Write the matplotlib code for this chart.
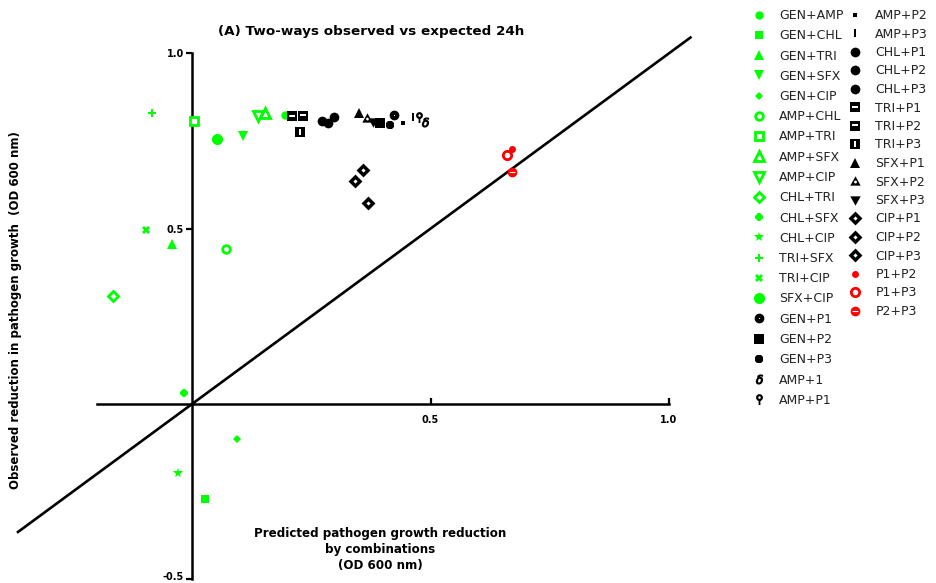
import numpy as np
import matplotlib
matplotlib.use("Agg")
import matplotlib.pyplot as plt
from matplotlib.path import Path
from matplotlib.lines import Line2D
from matplotlib.transforms import ScaledTranslation

# ---------------- data ----------------
green_labels = ["GEN+AMP", "GEN+CHL", "GEN+TRI", "GEN+SFX", "GEN+CIP",
                "AMP+CHL", "AMP+TRI", "AMP+SFX", "AMP+CIP", "CHL+TRI",
                "CHL+SFX", "CHL+CIP", "TRI+SFX", "TRI+CIP", "SFX+CIP"]
green_x = [0.195, 0.027, -0.042, 0.107, 0.094, 0.071, 0.004, 0.153, 0.138,
           -0.166, -0.017, -0.029, -0.084, -0.096, 0.052]
green_y = [0.824, -0.271, 0.456, 0.764, -0.100, 0.442, 0.807, 0.830, 0.821,
           0.308, 0.031, -0.197, 0.830, 0.496, 0.756]

black_labels = ["GEN+P1", "GEN+P2", "GEN+P3", "AMP+1", "AMP+P1", "AMP+P2",
                "AMP+P3", "CHL+P1", "CHL+P2", "CHL+P3", "TRI+P1", "TRI+P2",
                "TRI+P3", "SFX+P1", "SFX+P2", "SFX+P3", "CIP+P1", "CIP+P2",
                "CIP+P3"]
black_x = [0.423, 0.394, 0.415, 0.488, 0.476, 0.442, 0.463, 0.273, 0.285,
           0.298, 0.210, 0.233, 0.226, 0.350, 0.367, 0.379, 0.358, 0.342,
           0.369]
black_y = [0.823, 0.800, 0.795, 0.803, 0.818, 0.800, 0.818, 0.807, 0.801,
           0.818, 0.821, 0.821, 0.776, 0.830, 0.815, 0.803, 0.667, 0.636,
           0.573]

red_labels = ["P1+P2", "P1+P3", "P2+P3"]
red_x = [0.671, 0.660, 0.671]
red_y = [0.727, 0.710, 0.661]

identity_range = [-0.365, 1.045]

y_ticks = [-0.5, 0.5, 1.0]
y_ticklabels = ["-0.5", "0.5", "1.0"]
x_ticks = [0.5, 1.0]
x_ticklabels = ["0.5", "1.0"]

title = "(A) Two-ways observed vs expected 24h"
xlabel = "Predicted pathogen growth reduction\nby combinations\n(OD 600 nm)"
ylabel = "Observed reduction in pathogen growth  (OD 600 nm)"

# ---------------- custom marker paths ----------------
def poly(cx, cy, r, n=32, ccw=True):
    t = np.linspace(0, 2 * np.pi, n, endpoint=False)
    if not ccw:
        t = t[::-1]
    v = np.column_stack([cx + r * np.cos(t), cy + r * np.sin(t)])
    v = np.vstack([v, v[:1]])
    codes = [Path.MOVETO] + [Path.LINETO] * (n - 1) + [Path.CLOSEPOLY]
    return Path(v, codes)

def rect(x0, y0, x1, y1, ccw=True):
    v = [(x0, y0), (x1, y0), (x1, y1), (x0, y1)]
    if not ccw:
        v = v[::-1]
    v = v + [v[0]]
    return Path(v, [Path.MOVETO, Path.LINETO, Path.LINETO, Path.LINETO, Path.CLOSEPOLY])

def tri(up=True, hole=False):
    s = 1 if up else -1
    outer = Path([(-1, -0.8 * s), (1, -0.8 * s), (0, 1.0 * s), (-1, -0.8 * s)],
                 [Path.MOVETO, Path.LINETO, Path.LINETO, Path.CLOSEPOLY])
    if not hole:
        return outer
    inner = poly(0, -0.1 * s, 0.28, n=16, ccw=False)
    return Path.make_compound_path(outer, inner)

def diamond_hole():
    outer = Path([(0, -1), (1, 0), (0, 1), (-1, 0), (0, -1)],
                 [Path.MOVETO, Path.LINETO, Path.LINETO, Path.LINETO, Path.CLOSEPOLY])
    inner = Path([(0, -0.3), (-0.3, 0), (0, 0.3), (0.3, 0), (0, -0.3)],
                 [Path.MOVETO, Path.LINETO, Path.LINETO, Path.LINETO, Path.CLOSEPOLY])
    return Path.make_compound_path(outer, inner)

sq_hbar = Path.make_compound_path(rect(-1, -1, 1, 1), rect(-0.6, -0.18, 0.6, 0.22, False))
sq_hbar2 = Path.make_compound_path(rect(-1, -1, 1, 1), rect(-0.6, -0.05, 0.6, 0.35, False))
sq_vbar = Path.make_compound_path(rect(-1, -1, 1, 1), rect(-0.2, -0.6, 0.2, 0.6, False))
lollipop = Path.make_compound_path(poly(0, 0.35, 0.62), poly(0, 0.35, 0.22, ccw=False),
                                   rect(-0.16, -1.0, 0.16, -0.2))
vrect = rect(-0.35, -1, 0.35, 1)
circ_slit = Path.make_compound_path(poly(0, 0, 1.0), rect(-0.6, -0.12, 0.6, 0.12, False))
circ_dot = Path.make_compound_path(poly(0, 0, 1.0), poly(0, 0, 0.12, n=12, ccw=False))
dia_h = diamond_hole()

G = "#00ff00"
K = "#000000"
R = "#ff0000"

# style: (marker, size, filled, edge width)
green_style = [("o", 6, True, 0), ("s", 6, True, 0), ("^", 7, True, 0), ("v", 7, True, 0),
               ("D", 4.5, True, 0), ("o", 5.5, False, 2), ("s", 6, False, 2),
               ("^", 6.5, False, 2), ("v", 6.5, False, 2), ("D", 5, False, 2),
               ("8", 5.5, True, 0), ("*", 7, True, 0), ("P", 6, True, 0),
               ("X", 6, True, 0), ("o", 8, True, 0)]
black_style = [(circ_dot, 7, True, 0), ("s", 6.5, True, 0), ("8", 7, True, 0),
               (r"$\delta$", 6.5, True, 0.8), (lollipop, 8, True, 0), ("s", 3, True, 0),
               (vrect, 6, True, 0), ("o", 7, True, 0), ("o", 7, True, 0), ("o", 7, True, 0),
               (sq_hbar, 7, True, 0), (sq_hbar2, 7, True, 0), (sq_vbar, 7, True, 0),
               ("^", 7.5, True, 0), (tri(True, True), 7.5, True, 0), (tri(False, True), 7.5, True, 0),
               (dia_h, 10, True, 0), (dia_h, 10, True, 0), (dia_h, 10, True, 0)]
red_style = [("o", 5, True, 0), ("o", 6, False, 2), (circ_slit, 7, True, 0)]

# ---------------- figure ----------------
W, H = 936, 583
fig = plt.figure(figsize=(W / 100, H / 100), dpi=100)
ax = fig.add_axes([96.7 / W, 1 - 579.3 / H, (669 - 96.7) / W, (579.3 - 53.3) / H])
ax.set_xlim(-0.2, 1.0)
ax.set_ylim(-0.5, 1.0)
ax.patch.set_alpha(0)

for s in ["top", "right"]:
    ax.spines[s].set_visible(False)
ax.spines["left"].set_position(("data", 0))
ax.spines["bottom"].set_position(("data", 0))
ax.spines["left"].set_linewidth(1.8)
ax.spines["bottom"].set_linewidth(1.8)

ax.set_yticks(y_ticks)
ax.set_yticklabels(y_ticklabels)
ax.set_xticks(x_ticks)
ax.set_xticklabels(x_ticklabels)
ax.tick_params(axis="y", direction="out", length=4, width=1.6, pad=2,
               labelsize=7)
ax.tick_params(axis="x", direction="in", length=4, width=1.6, pad=8,
               labelsize=7)
for t in ax.get_xticklabels() + ax.get_yticklabels():
    t.set_fontweight("bold")
# nudge the lowest y label up a little so it stays inside the canvas
ylabs = ax.get_yticklabels()
ylabs[0].set_transform(ylabs[0].get_transform() +
                       ScaledTranslation(0, 3 / 100, fig.dpi_scale_trans))

ax.plot(identity_range, identity_range, color=K, lw=1.9, clip_on=False, zorder=2)

def draw(labels, xs, ys, styles, color):
    handles = []
    for lab, x, y, (mk, ms, filled, mew) in zip(labels, xs, ys, styles):
        fc = color if filled else "white"
        kw = dict(linestyle="none", marker=mk, markersize=ms,
                  markerfacecolor=fc, markeredgecolor=color,
                  markeredgewidth=mew)
        ax.plot([x], [y], clip_on=False, zorder=3, **kw)
        handles.append(Line2D([], [], **kw))
    return handles

hg = draw(green_labels, green_x, green_y, green_style, G)
hb = draw(black_labels, black_x, black_y, black_style, K)
hr = draw(red_labels, red_x, red_y, red_style, R)

# ---------------- texts ----------------
fig.text(371 / W, 1 - 31 / H, title, ha="center", va="center",
         fontsize=9.7, fontweight="bold")
fig.text(16 / W, 1 - 310 / H, ylabel, ha="center", va="center",
         rotation=90, fontsize=8.5, fontweight="bold")
fig.text(380 / W, 1 - 550 / H, xlabel, ha="center", va="center",
         fontsize=8.6, fontweight="bold", linespacing=1.3)

# ---------------- legends ----------------
col1_h = hg + hb[:5]
col1_l = green_labels + black_labels[:5]
col2_h = hb[5:] + hr
col2_l = black_labels[5:] + red_labels

fs = 9
leg_kw = dict(loc="upper left", frameon=False, fontsize=fs, borderpad=0,
              handlelength=1.0, handletextpad=1.15, borderaxespad=0,
              labelcolor="#222222")
fig.legend(col1_h, col1_l, bbox_to_anchor=(752.5 / W, 1 - 9 / H),
           labelspacing=0.58, **leg_kw)
fig.legend(col2_h, col2_l, bbox_to_anchor=(848.5 / W, 1 - 9 / H),
           labelspacing=0.44, **leg_kw)

fig.savefig("out.png", dpi=100)
